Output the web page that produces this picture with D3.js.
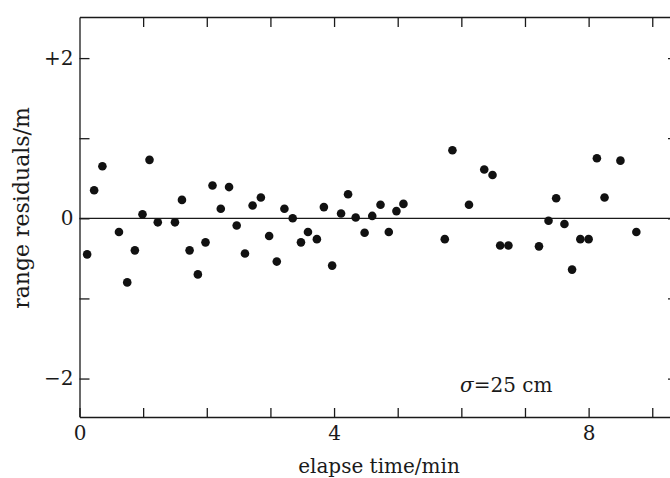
<!DOCTYPE html>
<html>
<head>
<meta charset="utf-8">
<script src="https://cdn.jsdelivr.net/npm/d3@7"></script>
<style>
  body { margin: 0; background: #fff; }
  svg { display: block; font-family: "DejaVu Serif", serif; }
</style>
</head>
<body>
<div id="vis"></div>
<script>
const FRAME_WIDTH = 670;
const FRAME_HEIGHT = 478;
const PLOT = {left: 80, right: 678, top: 17, bottom: 417};

// elapse time (min) and range residuals (m)
const times = [0.12, 0.23, 0.36, 0.62, 0.75, 0.87, 0.99, 1.10, 1.23, 1.50,
               1.61, 1.73, 1.86, 1.98, 2.09, 2.22, 2.35, 2.47, 2.60, 2.72,
               2.85, 2.98, 3.10, 3.22, 3.35, 3.48, 3.59, 3.73, 3.84, 3.97,
               4.11, 4.22, 4.34, 4.48, 4.60, 4.73, 4.86, 4.98, 5.09, 5.74,
               5.86, 6.12, 6.36, 6.49, 6.61, 6.74, 7.22, 7.37, 7.49, 7.62,
               7.74, 7.87, 8.00, 8.13, 8.25, 8.50, 8.75];
const residuals = [-0.45, 0.35, 0.65, -0.17, -0.80, -0.40, 0.05, 0.73, -0.05, -0.05,
                   0.23, -0.40, -0.70, -0.30, 0.41, 0.12, 0.39, -0.09, -0.44, 0.16,
                   0.26, -0.22, -0.54, 0.12, 0.00, -0.30, -0.17, -0.26, 0.14, -0.59,
                   0.06, 0.30, 0.01, -0.18, 0.03, 0.17, -0.17, 0.09, 0.18, -0.26,
                   0.85, 0.17, 0.61, 0.54, -0.34, -0.34, -0.35, -0.03, 0.25, -0.07,
                   -0.64, -0.26, -0.26, 0.75, 0.26, 0.72, -0.17];

const xTicks = [0, 1, 2, 3, 4, 5, 6, 7, 8, 9];
const xTickLabels = {0: "0", 4: "4", 8: "8"};
const yTicks = [-2, -1, 0, 1, 2];
const yTickLabels = {"-2": "\u22122", "0": "0", "2": "+2"};

const svg = d3.select("#vis")
  .append("svg")
  .attr("width", FRAME_WIDTH)
  .attr("height", FRAME_HEIGHT);

const X_SCALE = d3.scaleLinear()
  .domain([0, (PLOT.right - 79.5) / 63.64])
  .range([79.5, PLOT.right]);

const Y_SCALE = d3.scaleLinear()
  .domain([-2.48, 2.513])
  .range([PLOT.bottom, PLOT.top]);

const ink = "#1a1a1a";

// bottom axis with labels
svg.append("g")
  .attr("transform", `translate(0,${PLOT.bottom})`)
  .call(d3.axisBottom(X_SCALE)
    .tickValues(xTicks)
    .tickSizeInner(-9)
    .tickSizeOuter(0)
    .tickPadding(9)
    .tickFormat(d => xTickLabels[d] || ""));

// top axis, ticks only
svg.append("g")
  .attr("transform", `translate(0,${PLOT.top})`)
  .call(d3.axisTop(X_SCALE)
    .tickValues(xTicks.slice(1))
    .tickSizeInner(-10)
    .tickSizeOuter(0)
    .tickFormat(""));

// left axis with labels
svg.append("g")
  .attr("transform", `translate(${X_SCALE(0)},0)`)
  .call(d3.axisLeft(Y_SCALE)
    .tickValues(yTicks)
    .tickSizeInner(-10)
    .tickSizeOuter(0)
    .tickPadding(6)
    .tickFormat(d => yTickLabels[d] || ""));

// right axis, ticks only
svg.append("g")
  .attr("transform", `translate(${PLOT.right},0)`)
  .call(d3.axisRight(Y_SCALE)
    .tickValues(yTicks)
    .tickSizeInner(-10)
    .tickSizeOuter(0)
    .tickFormat(""));

svg.selectAll(".domain, .tick line")
  .attr("stroke", ink)
  .attr("stroke-width", 1.3);
svg.selectAll(".tick text")
  .attr("fill", ink)
  .style("font-family", "DejaVu Serif, serif")
  .style("font-size", "20px");

// zero line
svg.append("line")
  .attr("x1", X_SCALE(0))
  .attr("x2", PLOT.right)
  .attr("y1", Y_SCALE(0))
  .attr("y2", Y_SCALE(0))
  .attr("stroke", ink)
  .attr("stroke-width", 1.2);

// points
svg.selectAll("circle")
  .data(times.map((t, i) => ({t: t, r: residuals[i]})))
  .enter()
  .append("circle")
  .attr("cx", d => X_SCALE(d.t))
  .attr("cy", d => Y_SCALE(d.r))
  .attr("r", 4.3)
  .attr("fill", "#111");

// axis titles
svg.append("text")
  .attr("x", 379)
  .attr("y", 473)
  .attr("text-anchor", "middle")
  .attr("fill", ink)
  .style("font-size", "20px")
  .text("elapse time/min");

svg.append("text")
  .attr("transform", "translate(29,208) rotate(-90)")
  .attr("text-anchor", "middle")
  .attr("fill", ink)
  .style("font-size", "22px")
  .text("range residuals/m");

// sigma note
const note = svg.append("text")
  .attr("x", 460)
  .attr("y", 392)
  .attr("fill", ink)
  .style("font-size", "20px");
note.append("tspan").style("font-style", "italic").text("\u03c3");
note.append("tspan").text("=25 cm");
</script>
</body>
</html>
